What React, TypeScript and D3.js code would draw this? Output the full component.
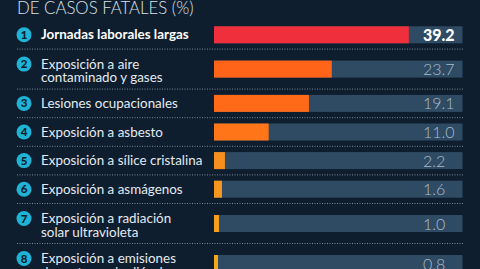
import * as d3 from 'd3'

const title = 'DE CASOS FATALES (%)'
const labels: string[][] = [
  ['Jornadas laborales largas'],
  ['Exposición a aire', 'contaminado y gases'],
  ['Lesiones ocupacionales'],
  ['Exposición a asbesto'],
  ['Exposición a sílice cristalina'],
  ['Exposición a asmágenos'],
  ['Exposición a radiación', 'solar ultravioleta'],
  ['Exposición a emisiones', 'de motores de diésel'],
]
const values = [39.2, 23.7, 19.1, 11.0, 2.2, 1.6, 1.0, 0.8]
const barColors = ['#ef2f3b', '#ff6419', '#ff6a18', '#ff7517', '#f78f1e', '#f7961e', '#f59f1c', '#f5a71b']

const W = 480
const H = 269
const font = 'Lato, "Noto Sans", sans-serif'

export default function App() {
  const x = d3.scaleLinear().domain([0, 50]).range([214, 462.5])

  // row heights depend on the number of label lines
  const heights = labels.map(l => (l.length > 1 ? 40 : 28.6))
  const tops = d3.cumsum([20.5, ...heights]).slice(0, labels.length)

  return (
    <div style={{ position: 'fixed', left: 0, top: 0, width: W, height: H, overflow: 'hidden' }}>
      <svg width={W} height={H} style={{ display: 'block', background: '#0f1e2e' }}>
        <text x={17} y={14} fill="#dbe3ea" fontFamily={font} fontSize={16.8} fontWeight={300}>
          {title}
        </text>
        {labels.map((lines, i) => {
          const top = tops[i]
          const h = heights[i]
          const cy = top + h / 2
          const base = lines.length > 1 ? cy - 0.5 : cy + 4.5
          const circleY = base - 4.5
          const first = i === 0
          return (
            <g key={i}>
              <line
                x1={17}
                x2={463}
                y1={top + h}
                y2={top + h}
                stroke="#7d8a98"
                strokeWidth={1}
                strokeDasharray="1,1.5"
              />
              <circle cx={24} cy={circleY} r={7.5} fill="#1fb3d5" />
              <text
                x={24}
                y={circleY + 4}
                textAnchor="middle"
                fill="#0f1e2e"
                fontFamily={font}
                fontSize={11.5}
                fontWeight={900}
              >
                {i + 1}
              </text>
              {lines.map((t, j) => (
                <text
                  key={j}
                  x={41}
                  y={base + j * 13.5}
                  fill={first ? '#ffffff' : '#e4eaf0'}
                  fontFamily={font}
                  fontSize={13.4}
                  fontWeight={first ? 700 : 400}
                >
                  {t}
                </text>
              ))}
              <rect x={x(0)} y={cy - 8.5} width={x(50) - x(0)} height={17} fill="#2f4a63" />
              <rect x={x(0)} y={cy - 8.5} width={x(values[i]) - x(0)} height={17} fill={barColors[i]} />
              <text
                x={423}
                y={cy + 6}
                fill={first ? '#ffffff' : '#a9bccd'}
                fontFamily={font}
                fontSize={16}
                fontWeight={first ? 900 : 300}
              >
                {values[i].toFixed(1)}
              </text>
            </g>
          )
        })}
      </svg>
    </div>
  )
}
